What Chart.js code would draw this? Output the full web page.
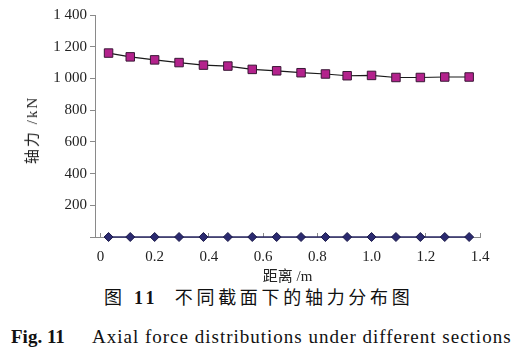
<!DOCTYPE html>
<html>
<head>
<meta charset="utf-8">
<script src="https://cdn.jsdelivr.net/npm/chart.js@4"></script>
<style>
    body { margin: 0; background: #fff; }
    #wrap { position: relative; width: 530px; height: 363px; overflow: hidden; }
    #box { position: absolute; left: 0; top: 0; width: 530px; height: 286px; }
    .cap { position: absolute; white-space: nowrap; color: #111; line-height: 20px;
           font-family: "Liberation Serif", "Noto Sans CJK SC", serif; }
    #tituloY { left: 32px; top: 130px; font-size: 15px; letter-spacing: 2px; color: #222;
               transform: translate(-50%, -50%) rotate(-90deg); }
    #cap1 { left: 104px; top: 288px; font-size: 18px; letter-spacing: 3.7px; }
    #cap2a { left: 11px; top: 327px; font-size: 19px; font-weight: bold; }
    #cap2b { left: 92px; top: 327px; font-size: 19px; letter-spacing: 1px; }
</style>
</head>
<body>
<div id="wrap">
    <div id="box"><canvas id="grafico"></canvas></div>
    <div class="cap" id="tituloY">轴力 /kN</div>
    <div class="cap" id="cap1">图 <b>11</b>&nbsp; 不同截面下的轴力分布图</div>
    <div class="cap" id="cap2a">Fig. 11</div>
    <div class="cap" id="cap2b">Axial force distributions under different sections</div>
</div>
<script>
// distância ao longo da seção (m)
const distancia = [0.03, 0.11, 0.20, 0.29, 0.38, 0.47, 0.56, 0.65, 0.74, 0.83, 0.91, 1.00, 1.09, 1.18, 1.27, 1.36];
// força axial (kN) - série com quadrados
const forcaSecao = [1160, 1136, 1117, 1100, 1084, 1078, 1057, 1048, 1036, 1028, 1017, 1019, 1006, 1006, 1009, 1009];
// segunda série (losangos), sobre o eixo
const forcaZero = [0, 0, 0, 0, 0, 0, 0, 0, 0, 0, 0, 0, 0, 0, 0, 0];

const xTicks = [0, 0.2, 0.4, 0.6, 0.8, 1.0, 1.2, 1.4];
const xTickLabels = ["0", "0.2", "0.4", "0.6", "0.8", "1.0", "1.2", "1.4"];
const yTicks = [200, 400, 600, 800, 1000, 1200, 1400];
const yTickLabels = ["200", "400", "600", "800", "1 000", "1 200", "1 400"];

const fonte = "'Liberation Serif', 'Noto Sans CJK SC', serif";
const corEixo = "#8a8a8a";

function pontos(xs, ys) {
    return xs.map((x, i) => ({ x, y: ys[i] }));
}

new Chart(document.getElementById("grafico"), {
    type: "line",
    data: {
        datasets: [
            {
                data: pontos(distancia, forcaSecao),
                borderColor: "#1a1a1a",
                borderWidth: 1.2,
                pointStyle: "rect",
                pointRadius: 6,
                pointBackgroundColor: "#b3228c",
                pointBorderColor: "#3a1836",
                pointBorderWidth: 1,
                clip: false
            },
            {
                data: pontos(distancia, forcaZero),
                borderColor: "#2b2a66",
                borderWidth: 1.5,
                pointStyle: "rectRot",
                pointRadius: 4.5,
                pointBackgroundColor: "#2b2a70",
                pointBorderColor: "#1c1b4a",
                pointBorderWidth: 1,
                clip: false
            }
        ]
    },
    options: {
        responsive: true,
        maintainAspectRatio: false,
        animation: false,
        layout: { padding: { top: 15, right: 50, left: 0, bottom: 0 } },
        plugins: { legend: { display: false }, tooltip: { enabled: false } },
        scales: {
            x: {
                type: "linear",
                min: -0.02,
                max: 1.4,
                afterBuildTicks: s => { s.ticks = xTicks.map(v => ({ value: v })); },
                afterFit: s => { s.height = 49; },
                ticks: {
                    color: "#222",
                    font: { family: fonte, size: 15 },
                    padding: 15,
                    maxRotation: 0,
                    callback: v => xTickLabels[xTicks.indexOf(v)] ?? ""
                },
                // marcas do eixo x voltadas para dentro
                grid: { drawOnChartArea: false, tickLength: -4, color: corEixo },
                border: { color: corEixo },
                title: {
                    display: true,
                    text: "距离 /m",
                    color: "#222",
                    font: { family: fonte, size: 15 },
                    padding: 0
                }
            },
            y: {
                min: 0,
                max: 1400,
                afterBuildTicks: s => { s.ticks = [0].concat(yTicks).map(v => ({ value: v })); },
                afterFit: s => { s.width = 95; },
                ticks: {
                    color: "#222",
                    font: { family: fonte, size: 15 },
                    padding: 3,
                    callback: v => yTickLabels[yTicks.indexOf(v)] ?? ""
                },
                grid: { drawOnChartArea: false, tickLength: 5, color: corEixo },
                border: { color: corEixo }
            }
        }
    }
});
</script>
</body>
</html>
